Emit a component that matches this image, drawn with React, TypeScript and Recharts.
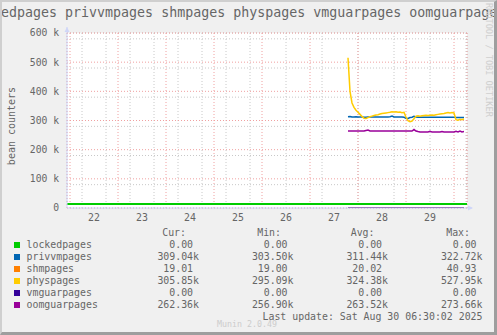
import { LineChart, Line, XAxis, YAxis, CartesianGrid } from "recharts"

// hours since Aug 22 00:00 (half-hour-ish samples read at 1h steps)
const hours = [
  139, 140, 141, 142, 143, 144, 145, 146, 147, 148, 149, 150, 151, 152, 153, 154, 155, 156, 157, 158,
  159, 160, 161, 162, 163, 164, 165, 166, 167, 168, 169, 170, 171, 172, 173, 174, 175, 176, 177, 178,
  179, 180, 181, 182, 183, 184, 185, 186, 187, 188, 189, 190, 191, 192, 193, 194, 195, 196, 197,
]

// values in k
const privvmpages = [
  313, 314, 312, 312, 313, 312, 312, 312, 311, 311, 312, 312, 312, 312, 312, 312, 312, 312, 312, 312,
  312, 313, 315, 312, 312, 312, 312, 312, 311, 308, 307, 310, 311, 314, 312, 311, 311, 311, 311, 311,
  311, 311, 311, 311, 311, 311, 311, 311, 311, 311, 311, 311, 311, 311, 310, 310, 310, 310, 310,
]
const shmpages = [
  0.019, 0.019, 0.019, 0.019, 0.019, 0.019, 0.019, 0.019, 0.019, 0.019, 0.019, 0.019, 0.019, 0.019, 0.019, 0.019, 0.019, 0.019, 0.019, 0.019,
  0.019, 0.019, 0.019, 0.019, 0.019, 0.019, 0.019, 0.019, 0.019, 0.019, 0.019, 0.019, 0.019, 0.019, 0.019, 0.019, 0.019, 0.019, 0.019, 0.019,
  0.019, 0.019, 0.019, 0.019, 0.019, 0.019, 0.019, 0.019, 0.019, 0.019, 0.019, 0.019, 0.019, 0.019, 0.019, 0.019, 0.019, 0.019, 0.019,
]
const physpages = [
  515, 400, 360, 345, 335, 328, 321, 314, 308, 307, 310, 313, 315, 317, 319, 320, 322, 324, 325, 326,
  327, 328, 330, 329, 330, 328, 329, 327, 328, 312, 299, 296, 298, 306, 315, 316, 315, 316, 317, 318,
  317, 318, 319, 318, 320, 321, 322, 323, 324, 326, 327, 326, 327, 326, 303, 301, 304, 303, 305,
]
const vmguarpages = [
  0, 0, 0, 0, 0, 0, 0, 0, 0, 0, 0, 0, 0, 0, 0, 0, 0, 0, 0, 0,
  0, 0, 0, 0, 0, 0, 0, 0, 0, 0, 0, 0, 0, 0, 0, 0, 0, 0, 0, 0,
  0, 0, 0, 0, 0, 0, 0, 0, 0, 0, 0, 0, 0, 0, 0, 0, 0, 0, 0,
]
const oomguarpages = [
  264, 264, 264, 264, 264, 264, 264, 264, 264, 266, 267, 264, 264, 264, 264, 264, 264, 264, 264, 264,
  264, 264, 264, 264, 264, 264, 264, 264, 264, 264, 264, 264, 264, 269, 264, 262, 261, 261, 261, 261,
  261, 263, 261, 261, 261, 261, 261, 262, 261, 261, 261, 261, 261, 261, 263, 261, 264, 261, 262,
]
const lockedHours = [-1.5, 198.5]
const lockedpages = [13.5, 13.5]

const dayTicks = [12, 36, 60, 84, 108, 132, 156, 180]
const dayLabels = ["22", "23", "24", "25", "26", "27", "28", "29"]
const midnightTicks = [0, 24, 48, 72, 96, 120, 144, 168, 192]
const sixHourTicks = [
  0, 6, 12, 18, 24, 30, 36, 42, 48, 54, 60, 66, 72, 78, 84, 90, 96, 102, 108, 114, 120, 126, 132, 138,
  144, 150, 156, 162, 168, 174, 180, 186, 192, 198,
]
const yTicks = [0, 100, 200, 300, 400, 500, 600]
const yMinorTicks = [
  20, 40, 60, 80, 120, 140, 160, 180, 220, 240, 260, 280, 320, 340, 360, 380, 420, 440, 460, 480, 520,
  540, 560, 580,
]

const legendNames = ["lockedpages", "privvmpages", "shmpages", "physpages", "vmguarpages", "oomguarpages"]
const legendColors = ["#00CC00", "#0066B3", "#FF8000", "#FFCC00", "#330099", "#990099"]
const curVals = ["0.00 ", "309.04k", "19.01 ", "305.85k", "0.00 ", "262.36k"]
const minVals = ["0.00 ", "303.50k", "19.00 ", "295.09k", "0.00 ", "256.90k"]
const avgVals = ["0.00 ", "311.44k", "20.02 ", "324.38k", "0.00 ", "263.52k"]
const maxVals = ["0.00 ", "322.72k", "40.93 ", "527.95k", "0.00 ", "273.66k"]

const mono = '"DejaVu Sans Mono", monospace'
const fontColor = "#666666"

const toRows = (xs: number[], vs: number[]) => xs.map((h, i) => ({ h, v: vs[i] }))

const series = [
  { name: "lockedpages", data: toRows(lockedHours, lockedpages), color: "#00CC00", width: 2 },
  { name: "privvmpages", data: toRows(hours, privvmpages), color: "#0066B3", width: 1.5 },
  { name: "shmpages", data: toRows(hours, shmpages), color: "#FF8000", width: 1.5 },
  { name: "physpages", data: toRows(hours, physpages), color: "#FFCC00", width: 1.5 },
  { name: "vmguarpages", data: toRows(hours, vmguarpages), color: "#330099", width: 1.5 },
  { name: "oomguarpages", data: toRows(hours, oomguarpages), color: "#990099", width: 1.5 },
]

const xDomain: [number, number] = [-1.5, 198.5]

function Txt({ x, y, children, align = "left", size = 9.9, color = fontColor }: any) {
  const style: any = {
    position: "absolute",
    top: y - 6,
    lineHeight: "12px",
    fontSize: size,
    fontFamily: mono,
    color,
    whiteSpace: "pre",
  }
  if (align === "right") style.right = 497 - x
  else style.left = x
  return <div style={style}>{children}</div>
}

export default function App() {
  const colEnds = [199, 293.5, 388, 482.5]
  const headEnds = [186, 281, 374.5, 470]
  const heads = ["Cur:", "Min:", "Avg:", "Max:"]
  const cols = [curVals, minVals, avgVals, maxVals]
  return (
    <div style={{ position: "relative", width: 497, height: 335, background: "#F0F0F0", overflow: "hidden" }}>
      <style>{"body{margin:0}"}</style>
      <LineChart
        width={497}
        height={335}
        margin={{ top: 33, right: 30, bottom: 97, left: 8 }}
        style={{ position: "absolute", left: 0, top: 0 }}
      >
        <XAxis xAxisId="min" dataKey="h" type="number" domain={xDomain} ticks={sixHourTicks} hide allowDataOverflow />
        <XAxis xAxisId="maj" dataKey="h" type="number" domain={xDomain} ticks={midnightTicks} hide allowDataOverflow />
        <YAxis yAxisId="min" type="number" domain={[0, 600]} ticks={yMinorTicks} hide allowDataOverflow />
        <XAxis
          xAxisId="lab"
          dataKey="h"
          type="number"
          domain={xDomain}
          ticks={dayTicks}
          allowDataOverflow
          tickFormatter={(v: number) => dayLabels[dayTicks.indexOf(v)]}
          tick={{ fill: fontColor, fontSize: 9.9, fontFamily: mono }}
          tickLine={false}
          tickSize={6}
          tickMargin={0}
          axisLine={{ stroke: "#CFD6F8" }}
        />
        <YAxis
          yAxisId="lab"
          type="number"
          domain={[0, 600]}
          ticks={yTicks}
          width={59}
          allowDataOverflow
          tickFormatter={(v: number) => (v === 0 ? "0" : `${v} k`)}
          tick={{ fill: fontColor, fontSize: 9.7, fontFamily: mono }}
          tickLine={false}
          axisLine={{ stroke: "#CFD6F8" }}
        />
        <CartesianGrid xAxisId="min" yAxisId="min" fill="#FFFFFF" stroke="#C8C8C8" strokeDasharray="1 2" />
        <CartesianGrid xAxisId="maj" yAxisId="lab" stroke="#F0A0A0" strokeDasharray="1 2" />
        {series.map((s) => (
          <Line
            key={s.name}
            xAxisId="lab"
            yAxisId="lab"
            data={s.data}
            dataKey="v"
            name={s.name}
            type="linear"
            stroke={s.color}
            strokeWidth={s.width}
            dot={false}
            activeDot={false}
            isAnimationActive={false}
          />
        ))}
      </LineChart>

      <div
        style={{
          position: "absolute",
          left: -31,
          top: 5,
          lineHeight: "16px",
          fontSize: 13.3,
          fontFamily: mono,
          color: fontColor,
          whiteSpace: "pre",
        }}
      >
        lockedpages privvmpages shmpages physpages vmguarpages oomguarpages
      </div>

      <svg width={497} height={335} style={{ position: "absolute", left: 0, top: 0, pointerEvents: "none" }}>
        <line x1={67} y1={27} x2={67} y2={33} stroke="#CFD6F8" />
        <polygon points="64.5,32 69.5,32 67,27" fill="#CFD6F8" />
        <line x1={467} y1={208} x2={472} y2={208} stroke="#CFD6F8" />
        <polygon points="468,205.5 468,210.5 473,208" fill="#CFD6F8" />
        <text
          x={11}
          y={126}
          transform="rotate(-90 11 126)"
          textAnchor="middle"
          dominantBaseline="central"
          fontFamily={mono}
          fontSize={10}
          fill={fontColor}
        >
          bean counters
        </text>
        <text
          x={489}
          y={3}
          transform="rotate(90 489 3)"
          dominantBaseline="central"
          fontFamily={mono}
          fontSize={8.6}
          fill="#CFCFCF"
        >
          RRDTOOL / TOBI OETIKER
        </text>
      </svg>

      {heads.map((h, i) => (
        <Txt key={h} x={headEnds[i]} y={233.3} align="right">
          {h}
        </Txt>
      ))}
      {legendNames.map((n, r) => (
        <div key={n}>
          <div
            style={{
              position: "absolute",
              left: 14,
              top: 245 + r * 12 - 3,
              width: 6,
              height: 6,
              background: legendColors[r],
            }}
          />
          <Txt x={26.5} y={245 + r * 12}>
            {n}
          </Txt>
          {cols.map((c, ci) => (
            <Txt key={ci} x={colEnds[ci]} y={245 + r * 12} align="right">
              {c[r]}
            </Txt>
          ))}
        </div>
      ))}
      <Txt x={482.5} y={316.7} align="right">
        Last update: Sat Aug 30 06:30:02 2025
      </Txt>
      <div
        style={{
          position: "absolute",
          left: 0,
          width: 494,
          top: 319,
          lineHeight: "10px",
          textAlign: "center",
          fontSize: 8.3,
          fontFamily: mono,
          color: "#CCCCCC",
        }}
      >
        Munin 2.0.49
      </div>

      <div
        style={{
          position: "absolute",
          left: 0,
          top: 0,
          width: 497,
          height: 335,
          boxSizing: "border-box",
          borderLeft: "2px solid #CFCFCF",
          borderTop: "2px solid #CFCFCF",
          borderRight: "3px solid #9E9E9E",
          borderBottom: "3px solid #9E9E9E",
          pointerEvents: "none",
        }}
      />
    </div>
  )
}
